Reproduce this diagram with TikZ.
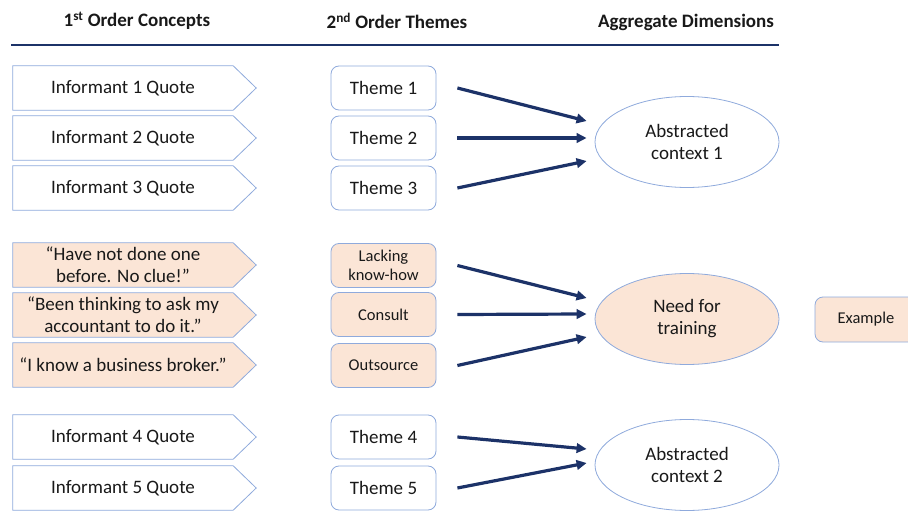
\documentclass[tikz,border=0pt]{standalone}
\usepackage{fontspec}
\setmainfont{Carlito}
\usetikzlibrary{shapes.geometric,arrows.meta,backgrounds}

\definecolor{navy}{RGB}{28,50,104}
\definecolor{lineblue}{RGB}{143,170,220}
\definecolor{peach}{RGB}{251,229,214}
\definecolor{txt}{RGB}{25,25,25}

\begin{document}
\begin{tikzpicture}[
x=1pt,
y=-1pt,
font=\fontsize{19}{22}\selectfont,
every node/.style={text=txt},
quote/.style={minimum width=220pt, minimum height=44pt, inner sep=0pt, align=center},
theme/.style={draw=lineblue, fill=white, line width=0.8pt, rounded corners=8pt,
	minimum width=105pt, minimum height=44pt, inner sep=0pt, align=center},
dim/.style={ellipse, draw=lineblue, fill=white, line width=0.8pt,
	minimum width=184pt, minimum height=91pt, inner sep=0pt, align=center},
head/.style={font=\fontsize{19}{22}\selectfont\bfseries},
small/.style={font=\fontsize{16.5}{19}\selectfont},
flow/.style={draw=navy, line width=3.2pt, -{Triangle[length=10pt,width=9.5pt]}},
]

	\useasboundingbox (0,0) rectangle (908,516);

	%%%%%%%%%%%%%%%%%%%%%%%%%%%%
	%Kopfzeile
	%%%%%%%%%%%%%%%%%%%%%%%%%%%%

	\node [head] (h1) at (137,21) {1\textsuperscript{st} Order Concepts};
	\node [head] (h2) at (397,21) {2\textsuperscript{nd} Order Themes};
	\node [head] (h3) at (686,22) {Aggregate Dimensions};
	\draw [navy, line width=2pt] (11,45) -- (779,45);

	%%%%%%%%%%%%%%%%%%%%%%%%%%%%
	%1st order: quotes
	%%%%%%%%%%%%%%%%%%%%%%%%%%%%

	\node [quote] (q1) at (123,88) {Informant 1 Quote};
	\node [quote] (q2) at (123,138) {Informant 2 Quote};
	\node [quote] (q3) at (123,188) {Informant 3 Quote};
	\node [quote] (q4) at (123,265) {“Have not done one\\before. No clue!”};
	\node [quote] (q5) at (123,315) {“Been thinking to ask my\\accountant to do it.”};
	\node [quote] (q6) at (123,365) {“I know a business broker.”};
	\node [quote] (q7) at (123,437) {Informant 4 Quote};
	\node [quote] (q8) at (123,488) {Informant 5 Quote};

	\begin{scope}[on background layer]
	\foreach \n/\c in {q1/white,q2/white,q3/white,q4/peach,q5/peach,q6/peach,q7/white,q8/white}
		\filldraw [draw=lineblue, fill=\c, line width=0.8pt] (\n.south west) -- (\n.north west) --
		(\n.north east) -- ([xshift=23pt]\n.east) -- (\n.south east) -- cycle;
	\end{scope}

	%%%%%%%%%%%%%%%%%%%%%%%%%%%%
	%2nd order: themes
	%%%%%%%%%%%%%%%%%%%%%%%%%%%%

	\node [theme] (t1) at (383.5,88) {Theme 1};
	\node [theme] (t2) at (383.5,138) {Theme 2};
	\node [theme] (t3) at (383.5,188) {Theme 3};
	\node [theme, small, fill=peach] (t4) at (383.5,265.5) {Lacking\\know-how};
	\node [theme, small, fill=peach] (t5) at (383.5,314.5) {Consult};
	\node [theme, small, fill=peach] (t6) at (383.5,365.5) {Outsource};
	\node [theme] (t7) at (383.5,437) {Theme 4};
	\node [theme] (t8) at (383.5,488) {Theme 5};

	%%%%%%%%%%%%%%%%%%%%%%%%%%%%
	%Aggregate dimensions
	%%%%%%%%%%%%%%%%%%%%%%%%%%%%

	\node [dim] (d1) at (687,142) {Abstracted\\context 1};
	\node [dim, fill=peach] (d2) at (687,319) {Need for\\training};
	\node [dim] (d3) at (687,465) {Abstracted\\context 2};

	\node [theme, small, fill=peach, minimum width=102pt, minimum height=45pt] (ex) at (866,319.5) {Example};

	% Pfeile
	\foreach \t/\d/\s in {t1/d1/21pt, t2/d1/4pt, t3/d1/-19pt,
		t4/d2/21pt, t5/d2/5pt, t6/d2/-18pt,
		t7/d3/16pt, t8/d3/2pt}
		\draw [flow] ([xshift=21pt]\t.east) -- ([shift={(-8pt,\s)}]\d.west);

\end{tikzpicture}
\end{document}
